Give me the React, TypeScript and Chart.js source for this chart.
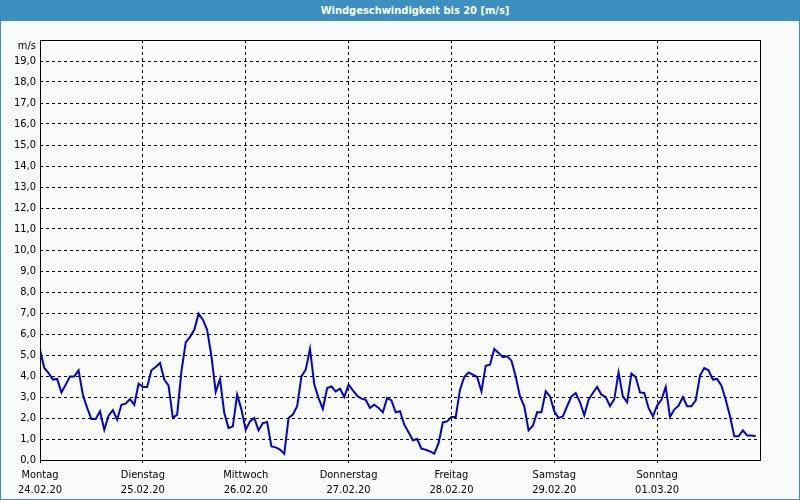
import React, { useEffect, useRef } from "react";
import { Chart, registerables } from "chart.js";

Chart.register(...registerables);

const chartTitle = "Windgeschwindigkeit bis 20 [m/s]";
const unitLabel = "m/s";
const dayNames = ["Montag", "Dienstag", "Mittwoch", "Donnerstag", "Freitag", "Samstag", "Sonntag"];
const dayDates = ["24.02.20", "25.02.20", "26.02.20", "27.02.20", "28.02.20", "29.02.20", "01.03.20"];
const hoursPerDay = 24;
const yMin = 0;
const yMax = 20;

// hourly wind speed [m/s], one row per day
const windSpeed = [
  5.25, 4.38, 4.14, 3.83, 3.86, 3.22, 3.59, 3.98, 3.98, 4.27, 3.11, 2.48, 1.95, 1.95, 2.32, 1.44, 2.11, 2.37, 1.92, 2.63, 2.68, 2.9, 2.63, 3.63,
  3.48, 3.48, 4.27, 4.43, 4.62, 3.83, 3.54, 2.0, 2.16, 4.22, 5.6, 5.86, 6.2, 6.97, 6.68, 6.2, 4.94, 3.24, 3.86, 2.24, 1.52, 1.6, 3.11, 2.4,
  1.44, 1.84, 2.0, 1.41, 1.76, 1.81, 0.65, 0.6, 0.5, 0.29, 2.0, 2.16, 2.56, 3.98, 4.3, 5.29, 3.6, 2.95, 2.43, 3.43, 3.5, 3.27, 3.4, 3.0,
  3.59, 3.32, 3.06, 2.92, 2.87, 2.48, 2.63, 2.48, 2.27, 2.95, 2.84, 2.27, 2.32, 1.68, 1.32, 0.94, 1.0, 0.54, 0.49, 0.41, 0.3, 0.8, 1.79, 1.84,
  2.05, 2.05, 3.35, 3.95, 4.17, 4.06, 3.95, 3.27, 4.49, 4.54, 5.29, 5.1, 4.9, 4.94, 4.73, 3.98, 3.03, 2.56, 1.41, 1.63, 2.27, 2.27, 3.27, 3.03,
  2.32, 2.0, 2.08, 2.56, 3.03, 3.19, 2.75, 2.13, 2.87, 3.19, 3.48, 3.11, 3.0, 2.56, 2.9, 4.17, 3.03, 2.75, 4.11, 3.95, 3.22, 3.19, 2.48, 2.08,
  2.59, 2.87, 3.48, 2.05, 2.4, 2.59, 3.0, 2.56, 2.56, 2.84, 4.02, 4.38, 4.27, 3.83, 3.86, 3.54, 2.87, 2.08, 1.13, 1.13, 1.41, 1.17, 1.17, 1.13,
];

const FONT = '"DejaVu Sans Condensed", "Liberation Sans", sans-serif';
const BLUE = "#3d8fc1";

const framePlugin = {
  id: "frame",
  afterDraw(chart: any) {
    const { ctx, chartArea: a } = chart;
    ctx.save();
    ctx.strokeStyle = "#000";
    ctx.lineWidth = 1;
    ctx.setLineDash([]);
    ctx.strokeRect(a.left + 0.5, a.top + 0.5, a.width, a.height);
    ctx.fillStyle = "#000";
    ctx.font = "11px " + FONT;
    ctx.textAlign = "right";
    ctx.textBaseline = "middle";
    ctx.fillText(unitLabel, a.left - 4, a.top + 6);
    ctx.restore();
  },
};

export default function App() {
  const ref = useRef<HTMLCanvasElement | null>(null);

  useEffect(() => {
    if (!ref.current) return;
    const xMax = dayNames.length * hoursPerDay;
    const points = windSpeed.map((v, i) => ({ x: i, y: v }));
    const chart = new Chart(ref.current, {
      type: "line",
      data: {
        datasets: [
          {
            data: points,
            borderColor: "#0000e6",
            borderWidth: 2,
            pointRadius: 0,
            tension: 0,
            fill: false,
          },
        ],
      },
      options: {
        animation: false,
        responsive: false,
        maintainAspectRatio: false,
        layout: { padding: { top: 19, right: 39, left: 0, bottom: 0 } },
        plugins: { legend: { display: false }, tooltip: { enabled: false }, title: { display: false } },
        scales: {
          x: {
            type: "linear",
            min: 0,
            max: xMax,
            afterFit: (s: any) => {
              s.height = 39;
            },
            grid: {
              color: (c: any) => (c.tick && c.tick.value >= xMax ? "rgba(0,0,0,0)" : "#000"),
              lineWidth: 1,
              tickLength: 3,
              drawOnChartArea: true,
            },
            border: { display: false, dash: [3, 3] },
            ticks: {
              stepSize: hoursPerDay,
              autoSkip: false,
              maxRotation: 0,
              padding: 5,
              color: "#000",
              font: { family: FONT, size: 11, lineHeight: 1.36 },
              callback: (v: any) => {
                const i = Math.round(Number(v) / hoursPerDay);
                if (i >= dayNames.length) return "";
                return [dayNames[i], dayDates[i]];
              },
            },
          },
          y: {
            min: yMin,
            max: yMax,
            afterFit: (s: any) => {
              s.width = 39;
            },
            grid: { color: "#000", lineWidth: 1, drawTicks: false },
            border: { display: false, dash: [3, 3] },
            ticks: {
              stepSize: 1,
              padding: 4,
              color: "#000",
              font: { family: FONT, size: 11 },
              callback: (v: any) => (Number(v) >= yMax ? "" : Number(v).toFixed(1).replace(".", ",")),
            },
          },
        },
      },
      plugins: [framePlugin],
    });
    return () => chart.destroy();
  }, []);

  return (
    <div
      style={{
        position: "fixed",
        left: 0,
        top: 0,
        width: 800,
        height: 500,
        boxSizing: "border-box",
        background: "#f9fcfa",
        borderLeft: `1px solid ${BLUE}`,
        borderRight: `1px solid ${BLUE}`,
        borderBottom: `1px solid ${BLUE}`,
        overflow: "hidden",
      }}
    >
      <div
        style={{
          height: 21,
          background: BLUE,
          color: "#fff",
          fontFamily: FONT,
          fontWeight: "bold",
          fontSize: 11,
          lineHeight: "21px",
          textAlign: "center",
          marginLeft: -1,
          marginRight: -1,
          paddingLeft: 30,
        }}
      >
        {chartTitle}
      </div>
      <canvas ref={ref} width={798} height={478} style={{ display: "block", width: 798, height: 478 }} />
    </div>
  );
}
